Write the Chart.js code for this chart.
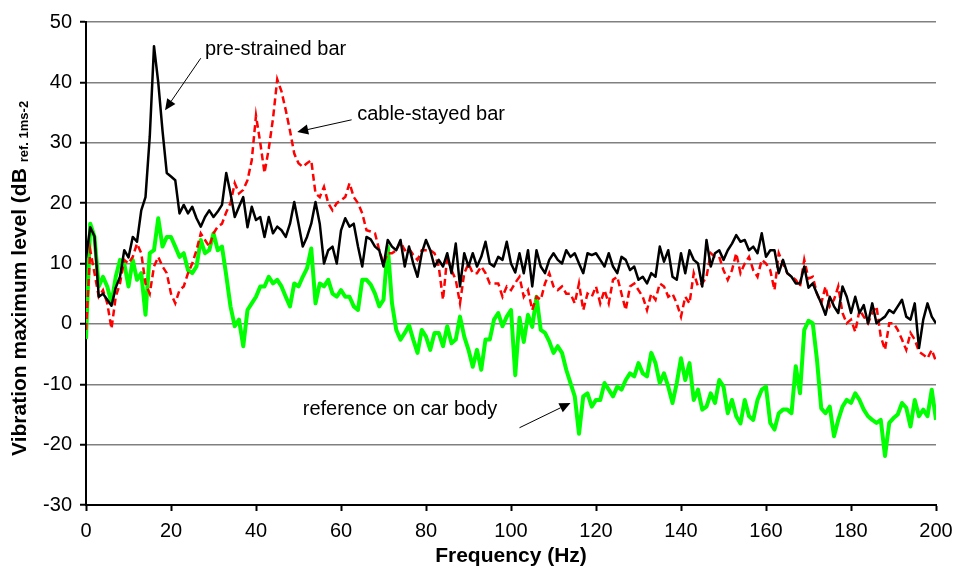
<!DOCTYPE html>
<html>
<head>
<meta charset="utf-8">
<script src="https://cdn.jsdelivr.net/npm/chart.js@4.4.1/dist/chart.umd.min.js"></script>
<style>
  html, body { margin: 0; padding: 0; background: #fff; }
  #wrap { width: 953px; height: 569px; }
</style>
</head>
<body>
<div id="wrap"><canvas id="myChart" width="953" height="569"></canvas></div>
<script>
// frequency in Hz, 1 Hz steps
const freq = Array.from({ length: 201 }, (_, i) => i);

// pre-strained bar (black)
const preStrained = [
  11, 16, 14.5, 4.5, 5, 4, 3, 6, 7.8, 12.2,
  11, 14.4, 13.6, 18.8, 21, 31, 46, 40, 32, 25,
  24.4, 23.8, 18.3, 19.7, 18.3, 19.4, 17.5, 16.1, 17.7, 18.8,
  17.7, 18.6, 19.7, 25, 21.6, 17.7, 19.4, 21, 16, 19.4,
  17.2, 17.7, 14.4, 17.7, 15, 16.1, 15.5, 14.4, 16.6, 20.2,
  16.6, 12.8, 14.4, 16.6, 20.2, 16.6, 10, 12.2, 12.8, 10,
  15.5, 17.5, 16.1, 16.6, 12.8, 9.5, 14.4, 14, 12.8, 12.2,
  9.5, 13.9, 12.8, 12.2, 13.9, 9.5, 12.8, 10, 7.8, 11.7,
  13.9, 12.2, 9.5, 10.6, 9.5, 11.7, 8.4, 13.3, 6.2, 11.7,
  9.5, 11.7, 9.5, 11.1, 13.6, 10, 9.5, 11.1, 10.6, 13.6,
  10, 8.5, 11.7, 8.4, 12.2, 6.2, 12.2, 9.5, 8.4, 10.6,
  11.7, 10.6, 10, 12.2, 11.1, 11.7, 10, 8.4, 11.7, 11.4,
  11.7, 10.6, 9.5, 11.7, 9.5, 8.4, 11.1, 10.6, 8.9, 9.5,
  7.3, 7.8, 6.7, 8.4, 7.8, 12.8, 10.3, 12.2, 7.8, 7.3,
  11.7, 8.4, 12.2, 10.6, 10, 6.2, 13.9, 9.5, 11.7, 12.2,
  10.6, 12.2, 13.3, 14.7, 13.6, 13.9, 12.2, 12.8, 11.7, 15,
  11.1, 12.2, 12.2, 8.4, 10.6, 8.4, 7.8, 6.7, 6.7, 9.5,
  6, 6.7, 5, 3.4, 1.5, 4.5, 2.9, 1.8, 6.2, 4.5,
  1.8, 4.5, 1.8, 3.1, 0.1, 3.4, 0.1, 0.7, 1.2, 2.3,
  1.8, 2.9, 4, 1.2, 0.7, 3.4, -4, 0.7, 3.4, 1.2,
  0.1
];

// cable-stayed bar (red dashed)
const cableStayed = [
  -1, 12.2, 8.4, 4.5, 5.6, 3.4, -0.8, 4.5, 6.7, 10.6,
  10, 11.1, 13.3, 11.7, 6.7, 5, 9.5, 11.1, 9.5, 8.4,
  5, 3.4, 5.6, 6.2, 8.4, 10, 12.2, 15, 13.9, 12.8,
  15, 16.1, 16.6, 18.5, 20, 23.3, 21.6, 22.2, 23.8, 27.1,
  34.5, 30, 25, 29, 34, 40.5, 38.5, 35.4, 32, 28.2,
  26.6, 26, 26.6, 27.1, 21.6, 21, 22.7, 20, 18.8, 20,
  20.5, 21, 23.3, 21, 20, 18.3, 15.5, 15.3, 15, 12.2,
  10, 11.7, 11.7, 12.2, 13.6, 12.2, 12.5, 11.4, 10.6, 12.2,
  12.2, 12.2, 11.7, 9.5, 4, 11.1, 8.9, 7.3, 3.4, 8.4,
  10, 8.4, 8.4, 9.5, 8.4, 6.7, 6.7, 6.7, 4.5, 6.2,
  5.6, 6.8, 7.8, 4.5, 5.6, 2.3, 4.5, 4, 6.7, 8.4,
  6.2, 5.6, 6.2, 5, 5, 3.4, 6.7, 2.3, 5, 4.5,
  6.2, 3.4, 5.6, 3.4, 7.3, 7.8, 5, 2.3, 6.2, 6.7,
  5.6, 4.5, 2.3, 5, 4, 6.7, 6.2, 4.5, 5, 3.4,
  1.2, 4.5, 3.4, 8.4, 6.2, 6.7, 7.8, 11.7, 11.1, 11.1,
  8.9, 7.3, 8.9, 11.7, 8.4, 10, 11.1, 8.9, 7.8, 10.6,
  10, 8.9, 5.6, 11.7, 10, 8.4, 7.8, 7.3, 6.2, 10.6,
  7.5, 7.8, 5, 3.4, 6.2, 2.9, 4, 6.2, 1.8, 0.1,
  0.7, -1.3, 2.3, 1.2, 0.1, 1.8, 2.9, -2.1, -4.3, 0.1,
  0.1, -1, -2.6, -4.3, -1.5, -2.6, -4.6, -5.1, -5.7, -4.3,
  -6.2
];

// reference on car body (green)
const carBody = [
  -2.5, 16.6, 14.4, 6.2, 7.8, 6.2, 3.4, 7.8, 10.6, 10,
  6.2, 10.6, 7.3, 8.4, 1.5, 11.7, 12.2, 17.5, 12.8, 14.4,
  14.4, 12.8, 11.1, 11.7, 8.9, 8.4, 9.5, 13.9, 11.7, 12.2,
  15, 12.2, 12.8, 8, 2.9, -0.4, 0.7, -3.7, 2.3, 3.4,
  4.5, 6.2, 6.2, 7.8, 6.7, 7.3, 6.2, 4.5, 2.9, 6.7,
  6.2, 7.8, 9.2, 12.5, 3.4, 6.7, 6.2, 7.3, 5, 4.5,
  5.6, 4.5, 4.5, 2.9, 2.3, 7.3, 7.3, 6.5, 5, 2.9,
  4, 12.8, 3.4, -1, -2.6, -1.5, -0.2, -2.6, -4.8, -1,
  -2.1, -4.3, -1.5, -1.5, -3.7, -0.4, -3.2, -2.6, 1.2, -2.1,
  -4.3, -7.1, -4.3, -7.6, -2.6, -2.6, 0.7, 1.8, -0.4, 1.2,
  2.3, -8.5, 1, -3, 1.5, -0.5, 4.5, -1, -1.5, -2.9,
  -4.8, -3.7, -4.8, -7.6, -9.8, -12, -18.2, -12, -11.5, -13.7,
  -12.6, -12.6, -9.8, -10.9, -12, -10.4, -10.9, -9.3, -8.2, -8.7,
  -6.5, -8.2, -8.7, -4.8, -6.5, -9.8, -8.2, -10.4, -13.1, -9.8,
  -5.7, -9.3, -6.5, -12.6, -10.9, -14.2, -13.7, -11.5, -13.1, -9.3,
  -10.4, -14.8, -12.6, -15.3, -16.5, -12.6, -15.3, -15.9, -12.6, -10.9,
  -10.4, -16.4, -17.5, -14.8, -14.2, -14.2, -14.8, -7, -11.5, -1,
  0.5, 0.1, -6, -14, -14.8, -13.7, -18.6, -15.9, -13.7, -12.6,
  -13.1, -11.5, -12.6, -14.2, -15.3, -15.9, -16.4, -15.9, -21.9, -16.4,
  -15.6, -15, -13.1, -13.9, -17, -12.6, -15.3, -14.2, -15.3, -10.9,
  -15.9
];

const xTicks = [0, 20, 40, 60, 80, 100, 120, 140, 160, 180, 200];
const yTicks = [-30, -20, -10, 0, 10, 20, 30, 40, 50];

// callouts: text anchor and arrow (start -> tip), in data units
const callouts = [
  { text: 'pre-strained bar', at: [28, 45.5], from: [27, 44], to: [18.6, 35.4] },
  { text: 'cable-stayed bar', at: [63.8, 34.6], from: [62.5, 33.8], to: [49.7, 31.8] },
  { text: 'reference on car body', at: [51, -14.2], from: [102, -17.2], to: [114, -13.1] }
];

const FONT = "'Liberation Sans', Arial, sans-serif";

const toPoints = (vals) => vals.map((v, i) => ({ x: freq[i], y: v }));

const calloutPlugin = {
  id: 'callouts',
  afterDatasetsDraw(chart) {
    const { ctx, scales: { x, y } } = chart;
    ctx.save();
    ctx.fillStyle = '#000';
    ctx.strokeStyle = '#000';
    ctx.font = '20px ' + FONT;
    ctx.textBaseline = 'middle';
    ctx.textAlign = 'left';
    callouts.forEach(c => {
      ctx.fillText(c.text, x.getPixelForValue(c.at[0]), y.getPixelForValue(c.at[1]));
      const x1 = x.getPixelForValue(c.from[0]), y1 = y.getPixelForValue(c.from[1]);
      const x2 = x.getPixelForValue(c.to[0]), y2 = y.getPixelForValue(c.to[1]);
      const ang = Math.atan2(y2 - y1, x2 - x1);
      const headLen = 11, headW = 5;
      const bx = x2 - headLen * Math.cos(ang), by = y2 - headLen * Math.sin(ang);
      ctx.lineWidth = 1;
      ctx.beginPath();
      ctx.moveTo(x1, y1);
      ctx.lineTo(bx, by);
      ctx.stroke();
      ctx.beginPath();
      ctx.moveTo(x2, y2);
      ctx.lineTo(bx + headW * Math.sin(ang), by - headW * Math.cos(ang));
      ctx.lineTo(bx - headW * Math.sin(ang), by + headW * Math.cos(ang));
      ctx.closePath();
      ctx.fill();
    });
    ctx.restore();
  }
};

// y title has a subscript part, so draw it by hand
const yTitlePlugin = {
  id: 'yTitle',
  afterDraw(chart) {
    const { ctx } = chart;
    const main = 'Vibration maximum level (dB ';
    const sub = 'ref. 1ms-2';
    ctx.save();
    ctx.translate(20, 456);
    ctx.rotate(-Math.PI / 2);
    ctx.fillStyle = '#000';
    ctx.textBaseline = 'middle';
    ctx.textAlign = 'left';
    ctx.font = 'bold 21px ' + FONT;
    ctx.fillText(main, 0, 0);
    const w = ctx.measureText(main).width;
    ctx.font = 'bold 13px ' + FONT;
    ctx.fillText(sub, w, 4);
    ctx.restore();
  }
};

const config = {
  type: 'line',
  data: {
    datasets: [
      {
        label: 'reference on car body',
        data: toPoints(carBody),
        borderColor: '#00ff00',
        borderWidth: 4,
        borderJoinStyle: 'round',
        pointRadius: 0,
        order: 3
      },
      {
        label: 'cable-stayed bar',
        data: toPoints(cableStayed),
        borderColor: '#ff0000',
        borderWidth: 2.5,
        borderDash: [7, 4],
        pointRadius: 0,
        order: 2
      },
      {
        label: 'pre-strained bar',
        data: toPoints(preStrained),
        borderColor: '#000000',
        borderWidth: 2.5,
        borderJoinStyle: 'round',
        pointRadius: 0,
        order: 1
      }
    ]
  },
  options: {
    responsive: false,
    animation: false,
    devicePixelRatio: 1,
    layout: { padding: { left: 0, right: 0, top: 22, bottom: 0 } },
    plugins: {
      legend: { display: false },
      tooltip: { enabled: false }
    },
    scales: {
      x: {
        type: 'linear',
        min: 0,
        max: 200,
        afterBuildTicks: (scale) => { scale.ticks = xTicks.map(v => ({ value: v })); },
        afterFit: (scale) => {
          scale.height = 64;
          scale.paddingRight = 17;
        },
        ticks: { color: '#000', font: { size: 20, family: FONT }, padding: 8, maxRotation: 0 },
        grid: { drawOnChartArea: false, drawTicks: true, tickLength: 6, tickColor: '#000', tickWidth: 2 },
        border: { color: '#000', width: 2 },
        title: {
          display: true,
          text: 'Frequency (Hz)',
          color: '#000',
          font: { size: 21, weight: 'bold', family: FONT },
          padding: { top: 0, bottom: 0 }
        }
      },
      y: {
        min: -30,
        max: 50,
        afterBuildTicks: (scale) => { scale.ticks = yTicks.map(v => ({ value: v })); },
        afterFit: (scale) => { scale.width = 86; },
        ticks: { color: '#000', font: { size: 20, family: FONT }, padding: 8 },
        grid: { color: '#808080', lineWidth: 1.5, drawTicks: true, tickLength: 6, tickColor: '#000', tickWidth: 2 },
        border: { color: '#000', width: 2 }
      }
    }
  },
  plugins: [calloutPlugin, yTitlePlugin]
};

const ctx = document.getElementById('myChart').getContext('2d');
const myChart = new Chart(ctx, config);
</script>
</body>
</html>
